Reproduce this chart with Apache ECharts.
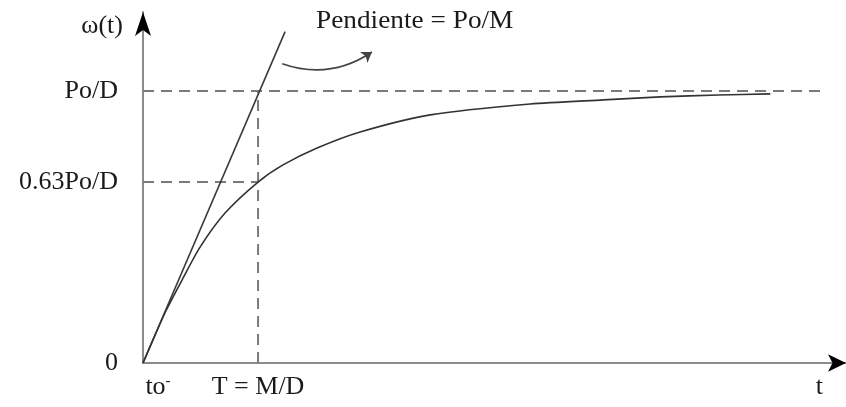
<!DOCTYPE html>
<html><head><meta charset="utf-8">
<script src="https://cdn.jsdelivr.net/npm/echarts@6/dist/echarts.min.js"></script>
<style>html,body{margin:0;padding:0;background:#fff}#c{width:846px;height:407px}</style>
</head><body><div id="c"></div>
<script>
// time in units of T = M/D, speed in units of Po/D
const tValues     = [0, 0.1, 0.2, 0.339, 0.496, 0.713, 1.0, 1.217, 1.513, 1.887, 2.496, 3.365, 4.0, 4.496, 5.0, 5.452];
const omegaValues = [0, 0.098, 0.192, 0.305, 0.426, 0.551, 0.665, 0.728, 0.790, 0.849, 0.912, 0.952, 0.967, 0.978, 0.985, 0.989];
const tangentT     = [0, 1.235];
const tangentOmega = [0, 1.218];
const steadyLevel = 1;      // Po/D
const tauLevel = 0.665;     // 0.63Po/D as drawn
const tauTime = 1;          // T = M/D
const steadyLineEnd = 5.9;
const xTickValues = [0, 1];
const xTickLabels = ['to', 'T = M/D'];
const yTickValues = [0, 0.665, 1];
const yTickLabels = ['0', '0.63Po/D', 'Po/D'];
const xMax = 6.11, yMax = 1.29;
const slopeNote = 'Pendiente = Po/M';
const noteArrowFrom = [1.21, 1.10], noteArrowTo = [1.99, 1.143];

const FONT = '"Liberation Serif", "Times New Roman", serif';
const FS = 26;
const TXT = '#1a1a1a';
const AXIS = '#8c8c8c';
const DASH = '#7a7a7a';

const chart = echarts.init(document.getElementById('c'), null, {renderer: 'canvas'});

const dashStyle = {color: DASH, width: 2, type: [11, 7]};
function lineSeries(data, style, extra) {
  return Object.assign({type: 'line', data: data, symbol: 'none', silent: true,
    animation: false, lineStyle: style, xAxisIndex: 0, yAxisIndex: 0}, extra || {});
}

const option = {
  backgroundColor: '#fff',
  animation: false,
  grid: {left: 143, right: 0, top: 12, bottom: 44, containLabel: false},
  xAxis: [{
    type: 'value', min: 0, max: xMax,
    name: 't', nameLocation: 'end', nameGap: -23,
    nameTextStyle: {fontFamily: FONT, fontSize: FS, color: TXT, align: 'right', verticalAlign: 'top', padding: [11, 0, 0, 0]},
    axisLine: {show: true, lineStyle: {color: AXIS, width: 2}},
    axisTick: {show: false}, splitLine: {show: false},
    axisLabel: {
      customValues: xTickValues, margin: 11,
      fontFamily: FONT, fontSize: FS, color: TXT,
      formatter: function (v) {
        const i = xTickValues.indexOf(v);
        if (i === 0) return '{pad|}{b|' + xTickLabels[0] + '}{s|-}';
        return '{b|' + xTickLabels[i] + '}';
      },
      rich: {
        pad: {width: 30},
        b: {fontFamily: FONT, fontSize: FS, color: TXT, lineHeight: 27},
        s: {fontFamily: FONT, fontSize: 15, color: TXT, verticalAlign: 'top', lineHeight: 27, padding: [0, 0, 14, 0]}
      }
    }
  }, {
    type: 'value', min: 0, max: xMax, position: 'bottom',
    axisLine: {show: true, lineStyle: {color: '#000', width: 0}, symbol: ['none', 'arrow'], symbolSize: [13, 18], symbolOffset: [0, 0]},
    axisTick: {show: false}, axisLabel: {show: false}, splitLine: {show: false}
  }],
  yAxis: [{
    type: 'value', min: 0, max: yMax,
    name: 'ω(t)', nameLocation: 'end', nameGap: -14,
    nameTextStyle: {fontFamily: FONT, fontSize: FS, color: TXT, align: 'right', verticalAlign: 'middle', padding: [0, 20, 0, 0]},
    axisLine: {show: true, lineStyle: {color: AXIS, width: 2}},
    axisTick: {show: false}, splitLine: {show: false},
    axisLabel: {
      customValues: yTickValues, margin: 25,
      fontFamily: FONT, fontSize: FS, color: TXT,
      formatter: function (v) { return yTickLabels[yTickValues.indexOf(v)]; }
    }
  }, {
    type: 'value', min: 0, max: yMax, position: 'left',
    axisLine: {show: true, lineStyle: {color: '#000', width: 0}, symbol: ['none', 'arrow'], symbolSize: [12, 24], symbolOffset: [0, 0]},
    axisTick: {show: false}, axisLabel: {show: false}, splitLine: {show: false}
  }],
  series: [
    lineSeries([[0, steadyLevel], [steadyLineEnd, steadyLevel]], dashStyle),
    lineSeries([[0, tauLevel], [tauTime, tauLevel]], dashStyle),
    lineSeries([[tauTime, 0], [tauTime, steadyLevel]], dashStyle),
    lineSeries(tangentT.map((t, i) => [t, tangentOmega[i]]), {color: '#3a3a3a', width: 1.6}),
    lineSeries(tValues.map((t, i) => [t, omegaValues[i]]), {color: '#333', width: 1.6}, {smooth: 0.25}),
    {
      type: 'lines', coordinateSystem: 'cartesian2d', xAxisIndex: 0, yAxisIndex: 0,
      silent: true, animation: false,
      symbol: ['none', 'arrow'], symbolSize: [0, 10],
      lineStyle: {color: '#444', width: 1.6, curveness: -0.25, opacity: 1},
      data: [{coords: [noteArrowFrom, noteArrowTo]}]
    }
  ],
  graphic: [{
    type: 'text', left: 316, top: 8, silent: true, scaleX: 1.05,
    style: {text: slopeNote, fontFamily: FONT, fontSize: FS, fill: TXT}
  }]
};
chart.setOption(option);
</script>
</body></html>
